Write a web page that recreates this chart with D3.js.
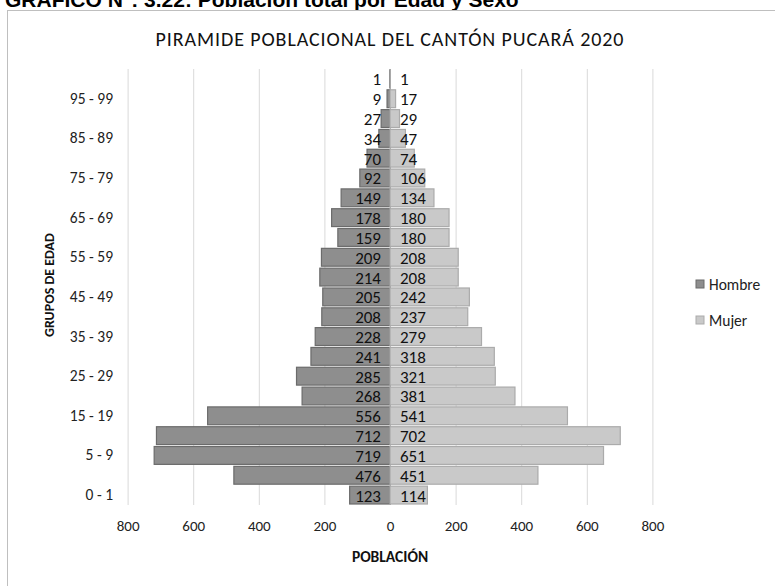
<!DOCTYPE html>
<html><head><meta charset="utf-8">
<script src="https://cdn.jsdelivr.net/npm/d3@7"></script>
<style>
body{margin:0;background:#fff;}
svg{display:block;}
text{font-family:Carlito,Lato,"Open Sans",sans-serif;}
</style></head>
<body><svg id="c" width="775" height="586"></svg>
<script>
const categories = ["0 - 1","1 - 4","5 - 9","10 - 14","15 - 19","20 - 24","25 - 29","30 - 34","35 - 39","40 - 44","45 - 49","50 - 54","55 - 59","60 - 64","65 - 69","70 - 74","75 - 79","80 - 84","85 - 89","90 - 94","95 - 99","100 y más"];
const hombre = [123,476,719,712,556,268,285,241,228,208,205,214,209,159,178,149,92,70,34,27,9,1];
const mujer  = [114,451,651,702,541,381,321,318,279,237,242,208,208,180,180,134,106,74,47,29,17,1];
const xTicks = [-800,-600,-400,-200,0,200,400,600,800];
const shownLabels = ["0 - 1","5 - 9","15 - 19","25 - 29","35 - 39","45 - 49","55 - 59","65 - 69","75 - 79","85 - 89","95 - 99"];
const seriesNames = ["Hombre","Mujer"];
const colors = {Hombre:"#8e8e8e", Mujer:"#c9c9c9"};
const strokes = {Hombre:"#6b6b6b", Mujer:"#ababab"};

const svg = d3.select("#c");
// caption (cut off at top)
svg.append("text").attr("x",5).attr("y",7)
  .style("font-family","'Liberation Sans',Arial,sans-serif")
  .attr("font-weight","bold").attr("font-size",21).attr("fill","#000")
  .text("GRÁFICO N°: 3.22: Población total por Edad y Sexo");
// frame
svg.append("rect").attr("x",7.5).attr("y",10.5).attr("width",800).attr("height",700)
  .attr("fill","#fff").attr("stroke","#bfbfbf");

const x = d3.scaleLinear().domain([-800,800]).range([127.6,652.4]);
const y = d3.scaleBand().domain(categories).range([505,69]).paddingInner(0.1).paddingOuter(0.05);

// gridlines
svg.append("g").selectAll("line").data(xTicks).join("line")
  .attr("x1",d=>x(d)+0.5).attr("x2",d=>x(d)+0.5).attr("y1",69).attr("y2",505)
  .attr("stroke",d=>d===0?"#c4c4c4":"#d9d9d9").attr("stroke-width",1);

// bars
const g = svg.append("g");
g.selectAll("rect.h").data(categories).join("rect").attr("class","h")
  .attr("x",(d,i)=>x(-hombre[i])).attr("y",d=>y(d))
  .attr("width",(d,i)=>x(0)-x(-hombre[i])).attr("height",y.bandwidth())
  .attr("fill",colors.Hombre).attr("stroke",strokes.Hombre).attr("stroke-width",1.2);
g.selectAll("rect.m").data(categories).join("rect").attr("class","m")
  .attr("x",x(0)).attr("y",d=>y(d))
  .attr("width",(d,i)=>x(mujer[i])-x(0)).attr("height",y.bandwidth())
  .attr("fill",colors.Mujer).attr("stroke",strokes.Mujer).attr("stroke-width",1.2);

// data labels
g.selectAll("text.hl").data(categories).join("text").attr("class","hl")
  .attr("x",x(0)-9).attr("y",(d)=>y(d)+y.bandwidth()/2).attr("dy","0.38em")
  .attr("text-anchor","end").attr("font-size",17).attr("fill","#111")
  .text((d,i)=>hombre[i]);
g.selectAll("text.ml").data(categories).join("text").attr("class","ml")
  .attr("x",x(0)+10).attr("y",(d)=>y(d)+y.bandwidth()/2).attr("dy","0.38em")
  .attr("text-anchor","start").attr("font-size",17).attr("fill","#111")
  .text((d,i)=>mujer[i]);

// y axis labels
const yAxis = d3.axisLeft(y).tickValues(shownLabels).tickSize(0).tickPadding(0);
const ya = svg.append("g").attr("transform","translate(113,0)").call(yAxis);
ya.select(".domain").remove();
ya.selectAll("text").attr("font-size",15.5).attr("fill","#222").style("font-family","Carlito,Lato,sans-serif");

// x axis labels
const xAxis = d3.axisBottom(x).tickValues(xTicks).tickSize(0).tickPadding(0).tickFormat(d=>Math.abs(d));
const xa = svg.append("g").attr("transform","translate(0,520)").call(xAxis);
xa.select(".domain").remove();
xa.selectAll("text").attr("font-size",15).attr("fill","#222").style("font-family","Carlito,Lato,sans-serif");

// titles
svg.append("text").attr("x",390).attr("y",46).attr("text-anchor","middle")
  .attr("font-size",20).attr("letter-spacing",0.9).attr("fill","#111").text("PIRAMIDE POBLACIONAL DEL CANTÓN PUCARÁ 2020");
svg.append("text").attr("x",390).attr("y",562).attr("text-anchor","middle")
  .attr("font-size",15.5).attr("font-weight","bold").attr("fill","#111").text("POBLACIÓN");
svg.append("text").attr("transform","translate(54,285) rotate(-90)").attr("text-anchor","middle")
  .attr("font-size",14).attr("font-weight","bold").attr("fill","#111").text("GRUPOS DE EDAD");

// legend
const lg = svg.append("g").selectAll("g").data(seriesNames).join("g")
  .attr("transform",(d,i)=>`translate(696,${280+i*36})`);
lg.append("rect").attr("width",8).attr("height",8).attr("y",0)
  .attr("fill",d=>colors[d]).attr("stroke",d=>strokes[d]);
lg.append("text").attr("x",13).attr("y",4).attr("dy","0.36em").attr("font-size",15.5)
  .attr("fill","#222").text(d=>d);
</script></body></html>
